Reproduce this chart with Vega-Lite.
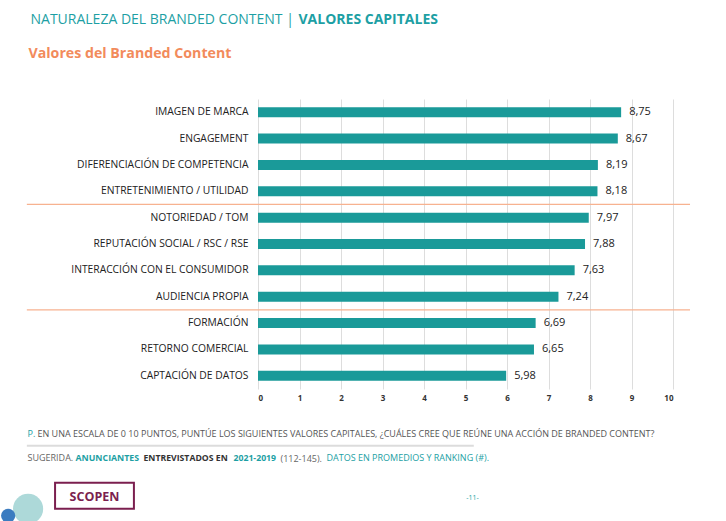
{
  "$schema": "https://vega.github.io/schema/vega-lite/v6.json",
  "width": 415,
  "height": 290,
  "autosize": {"type": "none"},
  "padding": {"left": 258, "top": 99, "right": 53, "bottom": 132},
  "background": "white",
  "config": {
    "view": {"stroke": null},
    "font": "Open Sans",
    "locale": {"number": {"decimal": ",", "thousands": ".", "grouping": [3], "currency": ["", " €"]}},
    "axis": {"titleFont": "Open Sans", "titleAlign": "left", "titleBaseline": "alphabetic", "titleAngle": 0}
  },
  "resolve": {"axis": {"x": "independent", "y": "independent"}},
  "data": {
    "values": [
      {"valor": "IMAGEN DE MARCA", "media": 8.75},
      {"valor": "ENGAGEMENT", "media": 8.67},
      {"valor": "DIFERENCIACIÓN DE COMPETENCIA", "media": 8.19},
      {"valor": "ENTRETENIMIENTO / UTILIDAD", "media": 8.18},
      {"valor": "NOTORIEDAD / TOM", "media": 7.97},
      {"valor": "REPUTACIÓN SOCIAL / RSC / RSE", "media": 7.88},
      {"valor": "INTERACCIÓN CON EL CONSUMIDOR", "media": 7.63},
      {"valor": "AUDIENCIA PROPIA", "media": 7.24},
      {"valor": "FORMACIÓN", "media": 6.69},
      {"valor": "RETORNO COMERCIAL", "media": 6.65},
      {"valor": "CAPTACIÓN DE DATOS", "media": 5.98}
    ]
  },
  "layer": [
    {
      "mark": {"type": "bar", "color": "#1a9a99"},
      "encoding": {
        "y": {
          "field": "valor", "type": "nominal", "sort": null,
          "scale": {"paddingInner": 0.62, "paddingOuter": 0.31},
          "axis": {
            "orient": "left", "domain": false, "ticks": false,
            "labelPadding": 10, "labelFont": "Open Sans", "labelFontSize": 10.3,
            "labelColor": "#222222", "labelLimit": 400,
            "title": "SUGERIDA.", "titleX": -231, "titleY": 361,
            "titleFontSize": 9, "titleFontWeight": "normal", "titleColor": "#666666"
          }
        },
        "x": {
          "field": "media", "type": "quantitative",
          "scale": {"domain": [0, 10], "nice": false},
          "axis": {
            "orient": "bottom",
            "values": [0, 1, 2, 3, 4, 5, 6, 7, 8, 9, 10],
            "grid": true, "gridColor": "#dddddd", "domain": false, "ticks": false,
            "labelPadding": 5, "labelFont": "Open Sans", "labelFontSize": 8,
            "labelFontWeight": "bold", "labelColor": "#333333",
            "title": "EN UNA ESCALA DE 0 10 PUNTOS, PUNTÚE LOS SIGUIENTES VALORES CAPITALES, ¿CUÁLES CREE QUE REÚNE UNA ACCIÓN DE BRANDED CONTENT?",
            "titleX": -221, "titleY": 47,
            "titleFontSize": 9, "titleFontWeight": "normal", "titleColor": "#555555"
          }
        }
      }
    },
    {
      "mark": {"type": "text", "align": "left", "dx": 8, "font": "Open Sans", "fontSize": 11, "color": "#222222"},
      "encoding": {
        "y": {
          "field": "valor", "type": "nominal", "sort": null,
          "axis": {
            "orient": "left", "labels": false, "ticks": false, "domain": false, "grid": false,
            "title": "ANUNCIANTES", "titleX": -183, "titleY": 361,
            "titleFontSize": 8.8, "titleFontWeight": "bold", "titleColor": "#1d9fa4"
          }
        },
        "x": {
          "field": "media", "type": "quantitative",
          "axis": {
            "orient": "top", "labels": false, "ticks": false, "domain": false, "grid": false,
            "title": "VALORES CAPITALES", "titleX": 40, "titleY": -76,
            "titleFontSize": 14, "titleFontWeight": "bold", "titleColor": "#1d9fa4"
          }
        },
        "text": {"field": "media", "type": "quantitative", "format": ".2f"}
      }
    },
    {
      "data": {"values": [
        {"valor": "ENTRETENIMIENTO / UTILIDAD"},
        {"valor": "AUDIENCIA PROPIA"}
      ]},
      "mark": {"type": "rule", "color": "#f7b290", "strokeWidth": 1.2, "yOffset": 13.2},
      "encoding": {
        "y": {
          "field": "valor", "type": "nominal", "sort": null,
          "axis": {
            "orient": "left", "labels": false, "ticks": false, "domain": false, "grid": false,
            "title": "ENTREVISTADOS EN", "titleX": -115, "titleY": 361,
            "titleFontSize": 8.7, "titleFontWeight": "bold", "titleColor": "#333333"
          }
        },
        "x": {
          "datum": -5.57, "type": "quantitative",
          "axis": {
            "orient": "bottom", "labels": false, "ticks": false, "domain": false, "grid": false,
            "title": "P.", "titleX": -231, "titleY": 47,
            "titleFontSize": 9, "titleFontWeight": "normal", "titleColor": "#1d9fa4"
          }
        },
        "x2": {"datum": 10.41}
      }
    },
    {
      "data": {"values": [{"valor": "CAPTACIÓN DE DATOS"}]},
      "mark": {"type": "rule", "color": "#dcdcdc", "strokeWidth": 2, "yOffset": 70},
      "encoding": {
        "y": {
          "field": "valor", "type": "nominal", "sort": null,
          "axis": {
            "orient": "left", "labels": false, "ticks": false, "domain": false, "grid": false,
            "title": "2021-2019", "titleX": -25, "titleY": 361,
            "titleFontSize": 8.7, "titleFontWeight": "bold", "titleColor": "#1d9fa4"
          }
        },
        "x": {
          "datum": -5.57, "type": "quantitative",
          "axis": {
            "orient": "bottom", "labels": false, "ticks": false, "domain": false, "grid": false,
            "title": "(112-145).", "titleX": 22, "titleY": 72,
            "titleFontSize": 9, "titleFontWeight": "normal", "titleColor": "#666666"
          }
        },
        "x2": {"datum": 5.2}
      }
    },
    {
      "data": {"values": [{"valor": "CAPTACIÓN DE DATOS"}]},
      "mark": {"type": "bar", "filled": false, "stroke": "#7b1f4f", "strokeWidth": 2, "height": 26, "yOffset": 120},
      "encoding": {
        "y": {
          "field": "valor", "type": "nominal", "sort": null,
          "axis": {
            "orient": "left", "labels": false, "ticks": false, "domain": false, "grid": false,
            "title": "DATOS EN PROMEDIOS Y RANKING (#).", "titleX": 68, "titleY": 361,
            "titleFontSize": 9, "titleFontWeight": "normal", "titleColor": "#1d9fa4"
          }
        },
        "x": {
          "datum": -4.89, "type": "quantitative",
          "axis": {
            "orient": "bottom", "labels": false, "ticks": false, "domain": false, "grid": false,
            "title": "SCOPEN", "titleX": -164, "titleY": 111, "titleAlign": "center",
            "titleFontSize": 12.5, "titleFontWeight": "bold", "titleColor": "#7b1f4f"
          }
        },
        "x2": {"datum": -2.99}
      }
    },
    {
      "data": {"values": [{"valor": "CAPTACIÓN DE DATOS"}]},
      "mark": {"type": "point", "filled": true, "opacity": 1, "color": "#add9d9", "size": 908, "yOffset": 133},
      "encoding": {
        "y": {
          "field": "valor", "type": "nominal", "sort": null,
          "axis": {
            "orient": "left", "labels": false, "ticks": false, "domain": false, "grid": false,
            "title": "NATURALEZA DEL BRANDED CONTENT |", "titleX": -228, "titleY": -76,
            "titleFontSize": 14, "titleFontWeight": "normal", "titleColor": "#1d9fa4"
          }
        },
        "x": {
          "datum": -5.54, "type": "quantitative",
          "axis": {
            "orient": "bottom", "labels": false, "ticks": false, "domain": false, "grid": false,
            "title": "-11-", "titleX": 214, "titleY": 110, "titleAlign": "center",
            "titleFontSize": 7, "titleFontWeight": "normal", "titleColor": "#1d9fa4"
          }
        }
      }
    },
    {
      "data": {"values": [{"valor": "CAPTACIÓN DE DATOS"}]},
      "mark": {"type": "point", "filled": true, "opacity": 1, "color": "#3b7cc0", "size": 201, "yOffset": 140},
      "encoding": {
        "y": {
          "field": "valor", "type": "nominal", "sort": null,
          "axis": {
            "orient": "left", "labels": false, "ticks": false, "domain": false, "grid": false,
            "title": "Valores del Branded Content", "titleX": -230, "titleY": -42,
            "titleFontSize": 14.2, "titleFontWeight": "bold", "titleColor": "#f28b5c"
          }
        },
        "x": {"datum": -6.02, "type": "quantitative", "axis": null}
      }
    }
  ]
}
